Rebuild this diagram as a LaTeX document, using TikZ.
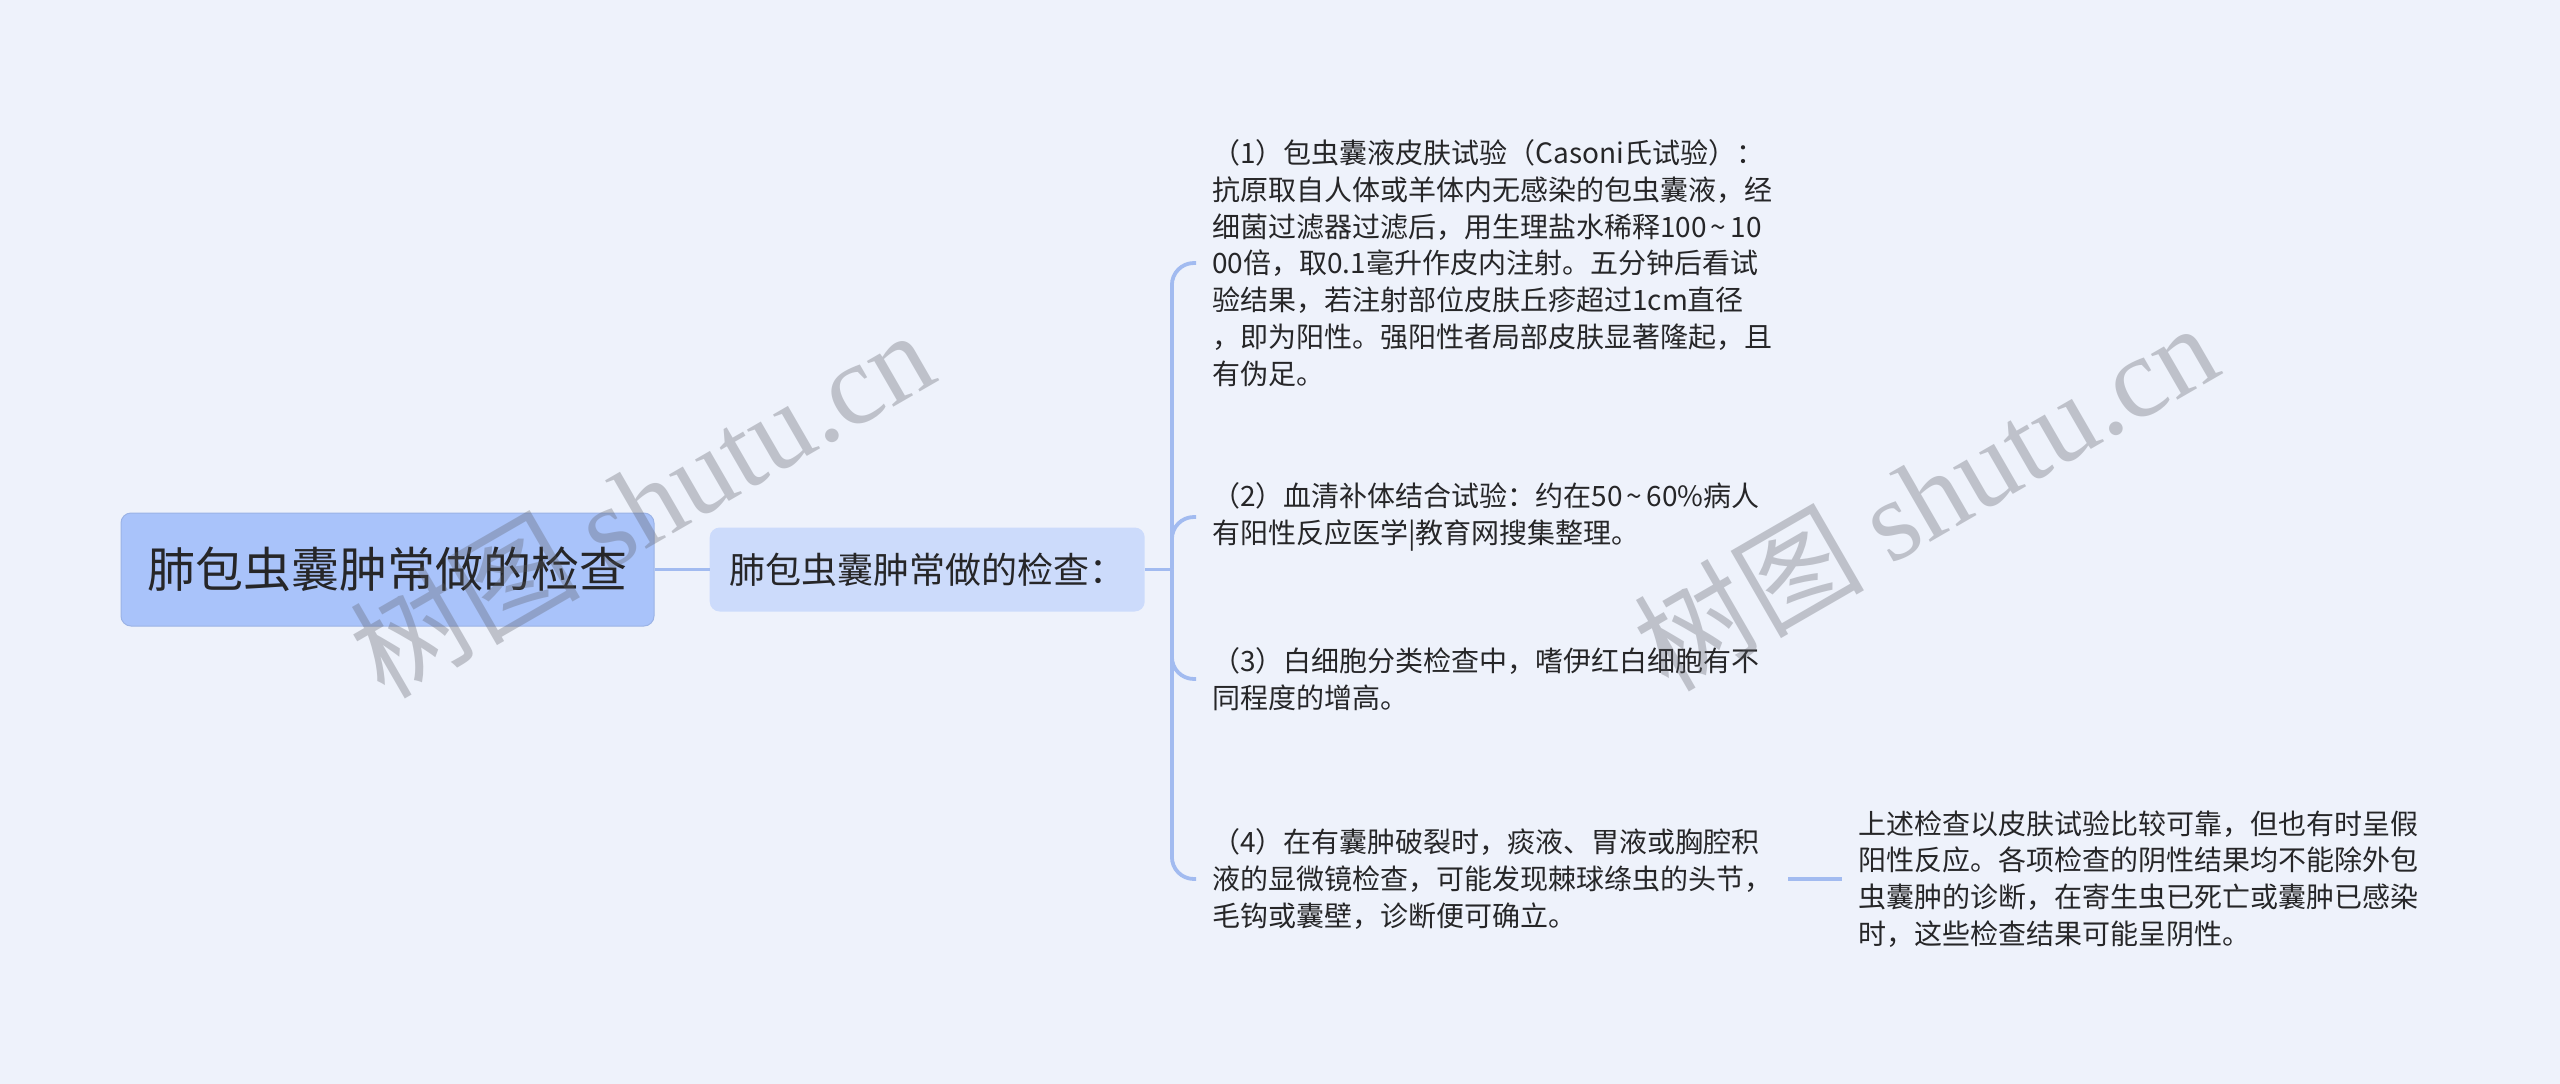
\documentclass[tikz,border=0pt]{standalone}
\usepackage{fontspec}
\setmainfont{Noto Sans CJK SC}
\newfontfamily\markfont{Liberation Serif}
\usetikzlibrary{positioning}
\definecolor{bgblue}{RGB}{238,242,251}
\definecolor{rootblue}{RGB}{169,195,250}
\definecolor{subblue}{RGB}{204,219,251}
\definecolor{linkblue}{RGB}{162,187,240}
\definecolor{inkgray}{RGB}{38,38,40}
\definecolor{markgray}{RGB}{90,92,100}
\newcommand{\rangetilde}{\makebox[0.85em]{\textasciitilde}}
\tikzstyle{root} = [rectangle, rounded corners=10pt, minimum width=533pt, minimum height=113pt, inner sep=0pt, text centered, fill=rootblue, draw=rootblue!92!black, line width=1pt, text=inkgray, font=\fontsize{48pt}{56pt}\selectfont]
\tikzstyle{sub} = [rectangle, rounded corners=10pt, minimum width=435pt, minimum height=84pt, inner sep=0pt, text centered, fill=subblue, text=inkgray, font=\fontsize{36pt}{44pt}\selectfont]
\tikzstyle{leaf} = [rectangle, anchor=west, align=left, inner xsep=16pt, inner ysep=4pt, text=inkgray, font=\fontsize{28pt}{36.8pt}\selectfont]
\tikzstyle{link} = [draw=linkblue, line width=3.8pt, rounded corners=22pt]
\tikzstyle{watermark} = [rotate=30, text=markgray, text opacity=0.32, font=\fontsize{115pt}{120pt}\selectfont]

\begin{document}
\begin{tikzpicture}[x=1pt, y=-1pt]

\fill [bgblue] (0,0) rectangle (2560,1084);
\useasboundingbox (0,0) rectangle (2560,1084);

\node (root) [root] at (387.5,569.5) {肺包虫囊肿常做的检查};
\node (sub) [sub, right=55pt of root] {肺包虫囊肿常做的检查：};
\coordinate (fork) at ([xshift=27pt]sub.east);

\node (test1) [leaf] at (1196,263) {（1）包虫囊液皮肤试验（Casoni氏试验）：\\抗原取自人体或羊体内无感染的包虫囊液，经\\细菌过滤器过滤后，用生理盐水稀释100\rangetilde10\\00倍，取0.1毫升作皮内注射。五分钟后看试\\验结果，若注射部位皮肤丘疹超过1cm直径\\，即为阳性。强阳性者局部皮肤显著隆起，且\\有伪足。};
\node (test2) [leaf] at (1196,517) {（2）血清补体结合试验：约在50\rangetilde60\%病人\\有阳性反应医学|教育网搜集整理。};
\node (test3) [leaf] at (1196,679) {（3）白细胞分类检查中，嗜伊红白细胞有不\\同程度的增高。};
\node (test4) [leaf] at (1196,879) {（4）在有囊肿破裂时，痰液、胃液或胸腔积\\液的显微镜检查，可能发现棘球绦虫的头节，\\毛钩或囊壁，诊断便可确立。};
\node (note) [leaf, right=54pt of test4] {上述检查以皮肤试验比较可靠，但也有时呈假\\阳性反应。各项检查的阴性结果均不能除外包\\虫囊肿的诊断，在寄生虫已死亡或囊肿已感染\\时，这些检查结果可能呈阴性。};

\draw [link] (root) -- (sub);
\draw [link] (sub) -- (fork);
\draw [link] (fork) |- (test1.west);
\draw [link] (fork) |- (test2.west);
\draw [link] (fork) |- (test3.west);
\draw [link] (fork) |- (test4.west);
\draw [link] (test4) -- (note);

\node (mark1) [watermark] at (641,502) {树图 {\markfont shutu.cn}};
\node (mark2) [watermark] at (1925,495) {树图 {\markfont shutu.cn}};

\end{tikzpicture}
\end{document}
